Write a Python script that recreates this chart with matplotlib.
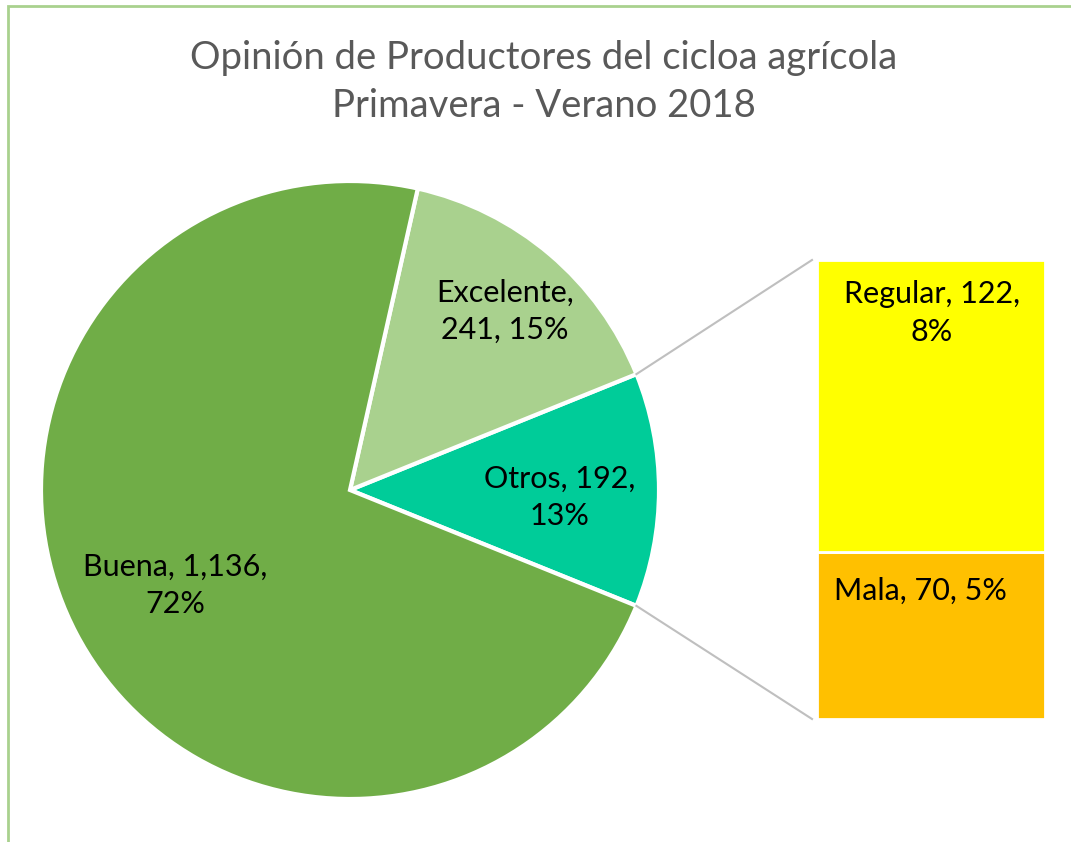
import matplotlib.pyplot as plt
from matplotlib.patches import Rectangle
import numpy as np

# pie data
pie_labels = ['Otros', 'Excelente', 'Buena']
pie_values = [192, 241, 1136]
pie_pcts = ['13%', '15%', '72%']
pie_colors = ['#00CC99', '#A9D18E', '#70AD47']

# bar (second plot) data
bar_labels = ['Mala', 'Regular']
bar_values = [70, 122]
bar_pcts = ['5%', '8%']
bar_colors = ['#FFC000', '#FFFF00']

plt.rcParams['font.family'] = ['Lato', 'DejaVu Sans']

W, H = 1071, 842
fig = plt.figure(figsize=(W / 100, H / 100), dpi=100)
ax = fig.add_axes([0, 0, 1, 1])
ax.set_xlim(0, W)
ax.set_ylim(0, H)
ax.axis('off')

# frame (cut off on right and bottom)
ax.add_patch(Rectangle((8, -20), W + 50, H - 6 + 20, fill=False,
                       edgecolor='#A9D18E', linewidth=2))

# pie
cx, cy, r = 350, H - 490, 309
total = sum(pie_values)
start = -pie_values[0] / total * 360 / 2
wedges, _ = ax.pie(pie_values, colors=pie_colors, startangle=start,
                   center=(cx, cy), radius=r, counterclock=True,
                   wedgeprops=dict(edgecolor='white', linewidth=3))
ax.set_xlim(0, W)
ax.set_ylim(0, H)
ax.set_aspect('equal')

# bar of otros
bar_x, bar_w = 931, 228
bar_bottom, bar_h = H - 719, 459
scale = bar_h / sum(bar_values)
bottom = bar_bottom
for v, c in zip(bar_values, bar_colors):
    ax.bar(bar_x, v * scale, width=bar_w, bottom=bottom, color=c,
           edgecolor='white', linewidth=2)
    bottom += v * scale

# connector lines
a1 = np.radians(start + pie_values[0] / total * 360)
a0 = np.radians(start)
ax.plot([cx + r * np.cos(a1), bar_x - bar_w / 2 - 5],
        [cy + r * np.sin(a1), bar_bottom + bar_h], color='#BFBFBF', lw=1.5)
ax.plot([cx + r * np.cos(a0), bar_x - bar_w / 2 - 5],
        [cy + r * np.sin(a0), bar_bottom], color='#BFBFBF', lw=1.5)

fs = 22
ls = 1.4
ax.text(560, H - 497, f'{pie_labels[0]}, {pie_values[0]},\n{pie_pcts[0]}',
        ha='center', va='center', fontsize=fs, linespacing=ls)
ax.text(505, H - 311, f'{pie_labels[1]},\n{pie_values[1]}, {pie_pcts[1]}',
        ha='center', va='center', fontsize=fs, linespacing=ls)
ax.text(175, H - 585, f'{pie_labels[2]}, {pie_values[2]:,},\n{pie_pcts[2]}',
        ha='center', va='center', fontsize=fs, linespacing=ls)
ax.text(932, H - 313, f'{bar_labels[1]}, {bar_values[1]},\n{bar_pcts[1]}',
        ha='center', va='center', fontsize=fs, linespacing=ls)
ax.text(920, H - 591, f'{bar_labels[0]}, {bar_values[0]}, {bar_pcts[0]}',
        ha='center', va='center', fontsize=fs)

ax.text(544, H - 58, 'Opinión de Productores del cicloa agrícola',
        ha='center', va='center', fontsize=27.5, color='#595959')
ax.text(544, H - 106, 'Primavera - Verano 2018',
        ha='center', va='center', fontsize=27.5, color='#595959')

fig.savefig('out.png', dpi=100)
